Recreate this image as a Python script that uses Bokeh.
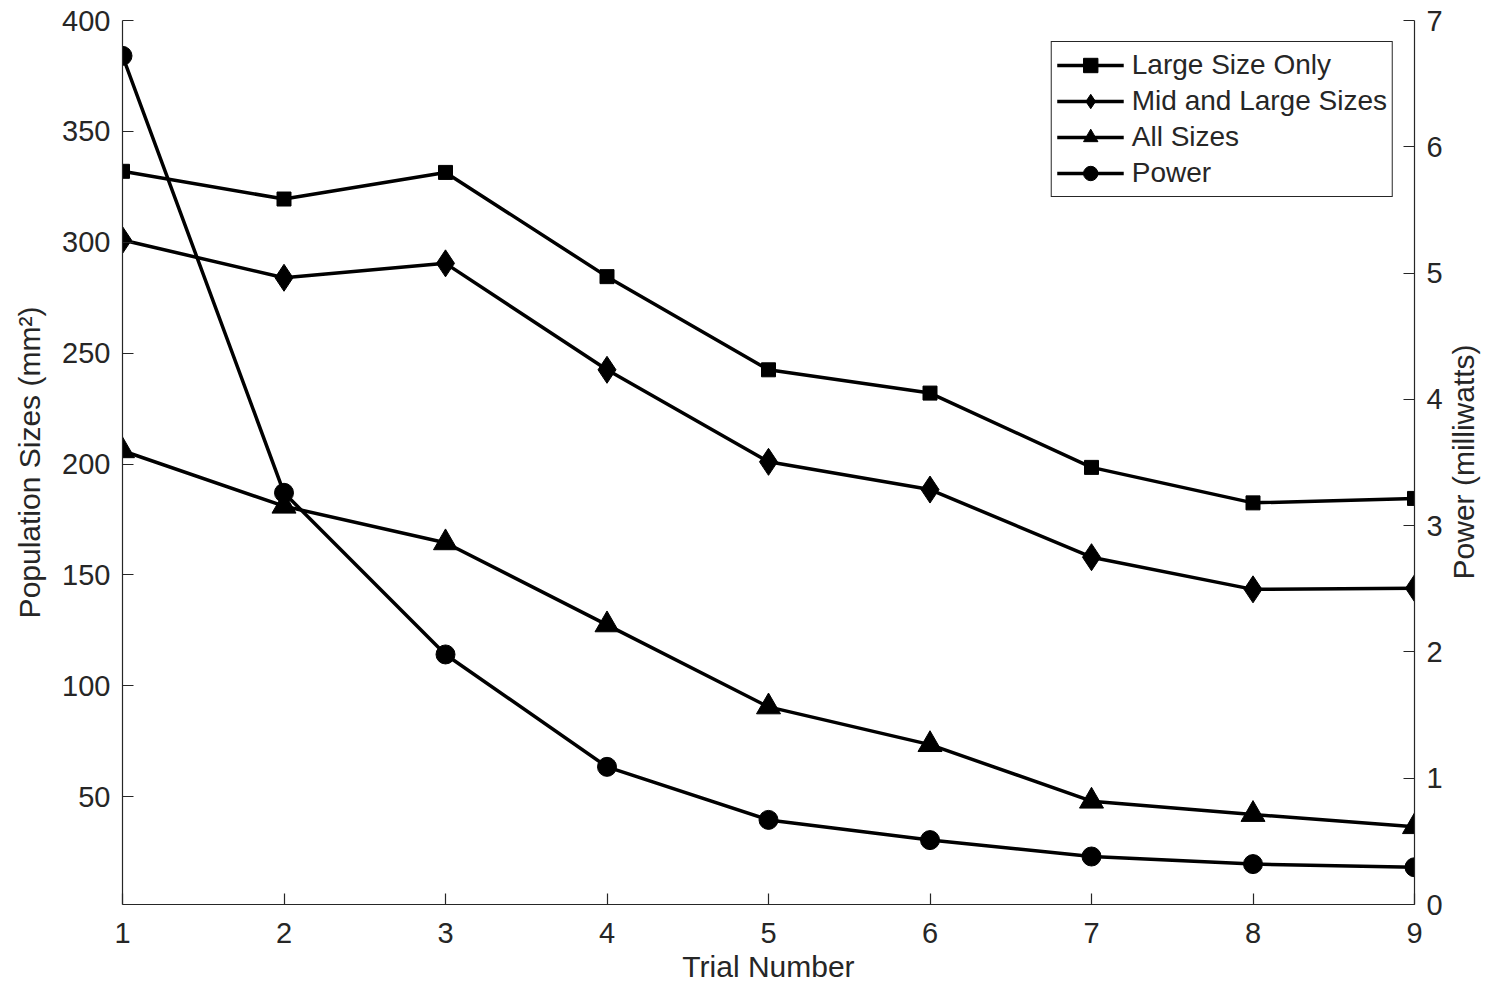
import math
from bokeh.plotting import figure
from bokeh.models import Range1d, LinearAxis, Legend, LegendItem, FixedTicker
from bokeh.embed import file_html
from bokeh.resources import INLINE

trials = [1, 2, 3, 4, 5, 6, 7, 8, 9]
large_only = [332, 319.5, 331.5, 284.5, 242.5, 232, 198.5, 182.5, 184.5]
mid_large = [301, 284, 290.5, 242.5, 201, 188.5, 158, 143.5, 144]
all_sizes = [206, 181, 164.5, 127.5, 90.5, 73.5, 48, 42, 36.5]
power_mw = [6.72, 3.26, 1.98, 1.09, 0.67, 0.51, 0.38, 0.32, 0.295]

left_ticks = [50, 100, 150, 200, 250, 300, 350, 400]
right_ticks = [0, 1, 2, 3, 4, 5, 6, 7]

FONT = "Liberation Sans"
TXT = "#262626"

W, H = 1500, 994
BL, BR, BT, BB = 122, 86, 20, 90

p = figure(width=W, height=H, output_backend="svg", toolbar_location=None,
           x_range=Range1d(1, 9), y_range=Range1d(1.4, 400),
           min_border_left=BL, min_border_right=BR, min_border_top=BT, min_border_bottom=BB)
p.extra_y_ranges = {"power": Range1d(0, 7)}
p.outline_line_color = None
p.background_fill_color = "white"
p.border_fill_color = "white"
p.xgrid.visible = False
p.ygrid.visible = False

def style(ax, standoff, lab_standoff):
    ax.axis_line_color = TXT
    ax.axis_line_width = 1.2
    ax.major_tick_line_color = TXT
    ax.major_tick_line_width = 1.2
    ax.major_tick_in = 11
    ax.major_tick_out = 0
    ax.minor_tick_line_color = None
    ax.major_label_text_font = FONT
    ax.major_label_text_font_size = "29px"
    ax.major_label_text_color = TXT
    ax.major_label_standoff = standoff
    ax.axis_label_text_font = FONT
    ax.axis_label_text_font_size = "30px"
    ax.axis_label_text_font_style = "normal"
    ax.axis_label_text_color = TXT
    ax.axis_label_standoff = lab_standoff

xa = p.xaxis[0]
xa.ticker = FixedTicker(ticks=trials)
xa.axis_label = "Trial Number"
style(xa, 18, 4)

ya = p.yaxis[0]
ya.ticker = FixedTicker(ticks=left_ticks)
ya.axis_label = "Population Sizes (mm²)"
style(ya, 12, 13)

ra = LinearAxis(y_range_name="power", ticker=FixedTicker(ticks=right_ticks),
                axis_label="\u00a0" * 39 + "Power (milliwatts)")
style(ra, 12, 18)
if "axis_label_orientation" in LinearAxis.properties():
    ra.axis_label_orientation = math.pi / 2
    ra.axis_label_align = "start"
p.add_layout(ra, "right")

LW = 3.5
l1 = p.line(trials, large_only, line_color="black", line_width=LW)
m1 = p.scatter(trials, large_only, marker="square", size=14, color="black")
l2 = p.line(trials, mid_large, line_color="black", line_width=LW)
m2 = p.scatter(trials, mid_large, marker="diamond", size=27, color="black")
l3 = p.line(trials, all_sizes, line_color="black", line_width=LW)
m3 = p.scatter(trials, all_sizes, marker="triangle", size=24, color="black")
l4 = p.line(trials, power_mw, line_color="black", line_width=LW, y_range_name="power")
m4 = p.scatter(trials, power_mw, marker="circle", size=19, color="black", y_range_name="power")

legend = Legend(items=[
    LegendItem(label="Large Size Only", renderers=[l1, m1]),
    LegendItem(label="Mid and Large Sizes", renderers=[l2, m2]),
    LegendItem(label="All Sizes", renderers=[l3, m3]),
    LegendItem(label="Power", renderers=[l4, m4]),
], location="top_right")
legend.margin = 21
legend.padding = 5
legend.spacing = 0
legend.glyph_width = 67
legend.glyph_height = 36
legend.label_standoff = 8
legend.label_text_font = FONT
legend.label_text_font_size = "28px"
legend.label_text_color = TXT
legend.border_line_color = TXT
legend.border_line_alpha = 1.0
legend.border_line_width = 1.5
legend.background_fill_color = "white"
legend.background_fill_alpha = 1.0
p.add_layout(legend, "center")

open("out.html", "w").write(file_html(p, INLINE))
